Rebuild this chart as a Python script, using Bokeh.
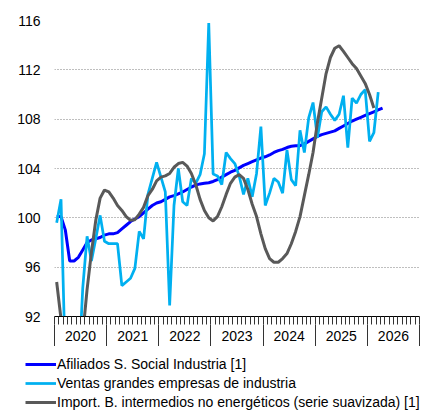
from bokeh.plotting import figure
from bokeh.layouts import column, row
from bokeh.models import FixedTicker, Legend, LegendItem, LinearAxis, Range1d
from bokeh.embed import file_html
from bokeh.resources import INLINE

# ---- data (monthly, starting January 2020) ----
years = ["2020", "2021", "2022", "2023", "2024", "2025", "2026"]
y_ticks = [92, 96, 100, 104, 108, 112, 116]

afiliados = [
    100.1, 100.1, 99.0, 96.5, 96.5, 96.8, 97.4, 98.0, 98.2, 98.3, 98.4, 98.6,
    98.7, 98.7, 98.8, 99.1, 99.4, 99.7, 99.9, 100.1, 100.4, 100.7, 101.0, 101.2,
    101.3, 101.5, 101.7, 101.8, 101.95, 102.1, 102.3, 102.5, 102.65, 102.75, 102.8, 102.85,
    102.95, 103.1, 103.3, 103.5, 103.7, 103.85, 104.05, 104.25, 104.4, 104.55, 104.7, 104.85,
    104.95, 105.1, 105.3, 105.45, 105.55, 105.7, 105.8, 105.85, 105.85, 106.0, 106.2, 106.4,
    106.6, 106.75, 106.85, 106.95, 107.05, 107.25, 107.45, 107.65, 107.85, 108.0, 108.15, 108.3,
    108.45, 108.6, 108.75, 108.9,
]

ventas = [
    99.6, 101.5, 88.0, 72.0, 78.0, 87.0, 94.3, 98.5, 96.5, 98.3, 100.2, 98.1,
    97.9, 97.9, 97.9, 94.5, 94.8, 95.1, 95.9, 98.9, 98.3, 101.9, 103.2, 104.5,
    103.3, 102.1, 92.9, 101.0, 104.0, 101.3, 101.0, 103.2, 102.8, 103.5, 105.2, 115.8,
    103.55, 103.4, 102.7, 105.3, 104.8, 104.4, 103.4, 101.9, 103.2, 101.7, 103.6, 107.4,
    101.0, 102.0, 103.2, 102.9, 102.0, 105.5, 103.1, 102.6, 107.1, 105.3, 108.1, 109.35,
    106.5, 108.6, 109.0, 108.4, 107.9, 108.4, 109.9, 105.7, 109.7, 109.3, 110.0, 110.4,
    106.2, 106.9, 110.2,
]

importaciones = [
    94.8, 91.8, 88.0, 85.0, 84.0, 86.0, 90.5, 94.2, 97.2, 99.8, 101.6, 102.25,
    102.1, 101.6, 101.0, 100.6, 100.1, 99.8, 99.85, 100.3, 100.85, 101.8, 102.3, 103.0,
    103.3, 103.4, 103.6, 104.1, 104.4, 104.5, 104.2, 103.6, 102.7, 101.5, 100.6, 100.0,
    99.75, 100.1, 100.9, 101.9, 102.8, 103.3, 103.5, 103.2, 102.3, 101.1, 100.1, 98.7,
    97.5, 96.7, 96.4, 96.4, 96.7, 97.1, 97.9, 98.9, 100.1, 101.8, 103.5, 105.3,
    107.7, 109.7, 111.7, 113.0, 113.75, 113.95, 113.5, 113.0, 112.5, 112.1, 111.5, 110.9,
    110.0, 108.9,
]

labels = [
    "Afiliados S. Social Industria [1]",
    "Ventas grandes empresas de industria",
    "Import. B. intermedios no energéticos (serie suavizada) [1]",
]
colors = ["#0000FF", "#00B0F0", "#595959"]
widths = [3, 2.75, 3]

FONT = "Liberation Sans"
TICK_COLOR = "#333333"


def month_x(series):
    return [i + 0.5 for i in range(len(series))]


n_months = 12 * len(years)
year_bounds = [12 * i for i in range(len(years) + 1)]
year_mids = [12 * i + 6 for i in range(len(years))]
all_series = [afiliados, ventas, importaciones]

p = figure(
    width=425, height=346,
    x_range=Range1d(0, n_months), y_range=Range1d(92, 116),
    output_backend="svg", toolbar_location=None,
    min_border_left=54, min_border_right=6, min_border_top=20, min_border_bottom=30,
)
p.outline_line_color = None
p.background_fill_color = "white"
p.border_fill_color = "white"

# grid
p.xgrid.visible = False
p.ygrid.ticker = FixedTicker(ticks=y_ticks)
p.ygrid.grid_line_color = "#7f7f7f"
p.ygrid.grid_line_dash = "1 2"
p.ygrid.grid_line_width = 1

# y axis
p.yaxis.ticker = FixedTicker(ticks=y_ticks)
p.yaxis.axis_line_color = None
p.yaxis.major_tick_line_color = None
p.yaxis.minor_tick_line_color = None
p.yaxis.major_label_text_font = FONT
p.yaxis.major_label_text_font_size = "14px"
p.yaxis.major_label_text_color = "#000000"
p.yaxis.major_label_standoff = 8

# x axis 1: axis line + monthly ticks (no labels)
p.xaxis.ticker = FixedTicker(ticks=list(range(n_months + 1)))
p.xaxis.axis_line_color = "#000000"
p.xaxis.axis_line_width = 1
p.xaxis.major_tick_out = 8
p.xaxis.major_tick_in = 0
p.xaxis.major_tick_line_color = TICK_COLOR
p.xaxis.minor_tick_line_color = None
p.xaxis.major_label_text_font_size = "0px"
p.xaxis.major_label_standoff = 0
p.xaxis.major_label_overrides = {m: "" for m in range(n_months + 1)}

# x axis 2: year labels centred in each year, long separators at year bounds
year_axis = LinearAxis(
    ticker=FixedTicker(ticks=year_mids, minor_ticks=year_bounds),
    major_label_overrides={m: y for m, y in zip(year_mids, years)},
    axis_line_color=None,
    major_tick_out=0, major_tick_in=0,
    minor_tick_out=22, minor_tick_in=0,
    minor_tick_line_color=TICK_COLOR,
    major_label_standoff=-16,
    major_label_text_font=FONT, major_label_text_font_size="14px",
    major_label_text_color="#000000",
)
p.add_layout(year_axis, "below")

for series, c, w in zip(all_series, colors, widths):
    p.line(month_x(series), series, line_color=c, line_width=w)

# ---- legend below, in its own small figure (series lie outside its y range) ----
lf = figure(
    width=425, height=66, output_backend="svg", toolbar_location=None,
    x_range=Range1d(0, n_months), y_range=Range1d(0, 1),
    x_axis_location=None, y_axis_location=None,
    min_border_left=0, min_border_right=0, min_border_top=0, min_border_bottom=0,
)
lf.outline_line_color = None
lf.grid.visible = False
items = []
for series, lab, c, w in zip(all_series, labels, colors, widths):
    r = lf.line(month_x(series), series, line_color=c, line_width=w)
    items.append(LegendItem(label=lab, renderers=[r]))

legend = Legend(
    items=items,
    location=(25, 2),
    orientation="vertical",
    border_line_color=None,
    background_fill_alpha=0,
    padding=0, margin=0, spacing=3,
    glyph_width=31, glyph_height=16, label_height=16, label_standoff=1,
    label_text_font=FONT, label_text_font_size="14px", label_text_color="#000000",
)
lf.add_layout(legend)

layout = column(p, row(lf), spacing=0)
open("out.html", "w").write(file_html(layout, INLINE))
